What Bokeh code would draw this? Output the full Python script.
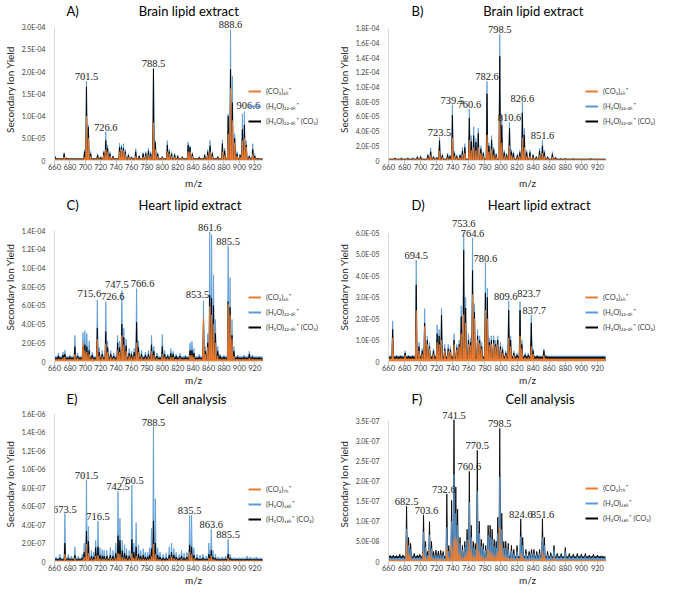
from bokeh.plotting import figure
from bokeh.layouts import gridplot
from bokeh.models import (Range1d, FixedTicker, CustomJSTickFormatter, Legend,
                          LegendItem, ColumnDataSource, LabelSet)
from bokeh.embed import file_html
from bokeh.resources import INLINE

X_MIN, X_MAX = 660, 930

# ---------------- Panel A: Brain lipid extract (units 1e-5) ----------------
A_unit = 1e-5
A_mz = [661, 672.5, 676, 684, 690, 695, 699, 701.5, 704, 707, 716, 720, 724, 726.6, 729, 732, 736,
        744.5, 747, 749.5, 752, 756, 760, 765.5, 770, 775, 778.5, 782, 785, 788.5, 791, 794, 800,
        806.5, 809, 812, 816, 820, 826, 833.5, 836, 839, 848, 855, 859, 862, 865, 872, 878, 881,
        885.5, 888.6, 891, 894, 897, 901, 904, 906.6, 909, 913, 917.5, 920, 925]
A_co2 = [0.4, 0.8, 0.3, 0.2, 0.2, 0.2, 0.8, 10.0, 5.0, 1.0, 0.6, 0.4, 1.2, 2.5, 2.0, 1.0, 0.6,
         2.0, 2.5, 2.2, 1.5, 0.8, 0.6, 1.0, 0.6, 0.8, 1.0, 1.2, 1.0, 8.5, 2.5, 1.0, 0.6,
         2.0, 1.5, 1.0, 0.8, 0.6, 0.6, 2.0, 2.0, 1.0, 0.4, 0.6, 1.2, 2.0, 1.0, 0.5, 2.0, 1.2,
         6.0, 16.2, 9.0, 4.0, 1.0, 0.8, 4.5, 5.0, 3.0, 0.6, 1.5, 0.6, 0.3]
A_h2o = [1.0, 1.8, 0.6, 0.4, 0.4, 0.4, 2.5, 17.9, 8.0, 2.0, 1.5, 0.9, 2.2, 6.5, 3.5, 2.0, 1.1,
         3.9, 3.5, 3.8, 2.5, 1.5, 1.0, 2.7, 1.2, 1.8, 2.0, 2.8, 2.0, 20.8, 4.5, 1.8, 1.0,
         4.5, 2.5, 2.0, 1.6, 1.2, 1.0, 4.2, 3.3, 1.8, 0.9, 1.5, 2.5, 4.5, 2.0, 1.0, 4.6, 2.8,
         10.5, 29.5, 19.0, 6.0, 2.0, 1.5, 10.5, 11.0, 4.5, 1.2, 3.8, 1.5, 0.5]
A_h2o_co2 = [0.8, 1.5, 0.5, 0.3, 0.3, 0.3, 2.0, 16.6, 7.5, 1.5, 1.2, 0.7, 1.8, 4.5, 2.8, 1.5, 0.9,
             3.0, 3.0, 2.8, 2.0, 1.2, 0.8, 2.0, 1.0, 1.5, 1.6, 2.2, 1.5, 20.6, 4.0, 1.5, 0.8,
             3.5, 2.0, 1.5, 1.3, 1.0, 0.8, 3.5, 3.0, 1.5, 0.7, 1.2, 2.0, 3.3, 1.6, 0.8, 3.8, 2.2,
             10.0, 20.5, 13.0, 5.0, 1.5, 1.2, 7.0, 8.0, 3.5, 1.0, 2.5, 1.0, 0.4]
A_base = [0.25, 0.45, 0.35]
A_labels = ["701.5", "726.6", "788.5", "888.6", "906.6"]

# ---------------- Panel B: Brain lipid extract (units 1e-5) ----------------
B_unit = 1e-5
B_mz = [668, 676, 684, 690, 696, 700, 709, 712.5, 716, 720, 723.5, 727, 733.5, 736.5, 739.5, 742,
        745, 749, 752, 755, 760.6, 763, 766, 768.8, 771.7, 775, 778, 782.6, 785, 788.3, 791, 794,
        798.5, 801, 804, 807, 810.6, 813, 815.5, 820.4, 823.5, 826.6, 829, 832, 836, 840, 844, 848,
        851.6, 854, 858, 864, 868, 874.5, 880, 890, 900, 912]
B_h2o = [0.4, 0.4, 0.4, 0.4, 0.6, 0.7, 0.9, 1.7, 0.6, 0.5, 3.2, 0.9, 1.0, 0.8, 7.6, 1.3,
         0.8, 0.9, 1.8, 2.3, 7.0, 3.4, 4.6, 3.0, 4.4, 2.0, 1.2, 10.8, 2.4, 3.4, 1.8, 1.0,
         17.2, 6.1, 1.4, 1.0, 5.2, 1.5, 1.2, 0.9, 1.4, 7.9, 4.4, 1.4, 1.4, 0.9, 0.6, 1.7,
         2.75, 1.4, 0.6, 1.2, 0.5, 0.3, 0.3, 0.3, 0.25, 0.3]
B_h2o_co2 = [0.3, 0.3, 0.3, 0.3, 0.5, 0.5, 0.7, 1.2, 0.5, 0.4, 2.7, 0.7, 0.8, 0.6, 6.2, 1.0,
             0.6, 0.7, 1.3, 1.8, 5.8, 2.6, 3.4, 2.5, 3.7, 1.6, 1.0, 9.1, 2.0, 2.8, 1.5, 0.8,
             14.2, 4.8, 1.1, 0.8, 4.4, 1.2, 1.0, 0.7, 1.1, 6.5, 3.5, 1.1, 1.1, 0.7, 0.5, 1.3,
             2.0, 1.1, 0.5, 0.9, 0.4, 0.25, 0.25, 0.25, 0.2, 0.25]
B_co2 = [0.2, 0.2, 0.2, 0.2, 0.3, 0.3, 0.4, 0.7, 0.3, 0.25, 1.3, 0.4, 0.4, 0.3, 3.1, 0.6,
         0.4, 0.4, 0.8, 1.0, 2.8, 1.4, 1.8, 1.4, 1.8, 1.0, 0.6, 3.5, 1.2, 1.5, 0.8, 0.5,
         6.1, 2.4, 0.6, 0.5, 2.0, 0.7, 0.5, 0.4, 0.6, 3.1, 1.8, 0.6, 0.6, 0.4, 0.3, 0.7,
         1.0, 0.6, 0.3, 0.5, 0.25, 0.15, 0.15, 0.15, 0.12, 0.15]
B_base = [0.1, 0.2, 0.17]
B_labels = ["723.5", "739.5", "760.6", "782.6", "798.5", "810.6", "826.6", "851.6"]

# ---------------- Panel C: Heart lipid extract (units 1e-5) ----------------
C_unit = 1e-5
C_mz = [665, 671, 673.5, 680, 686.5, 690, 697, 699.5, 702, 705, 709, 715.6, 718, 722, 726.6, 729,
        733, 737, 742, 744.5, 747.5, 750, 753, 757, 760, 763.5, 766.6, 769, 773, 778, 782, 786,
        789, 793, 800, 803, 807, 811, 814, 818, 823, 830, 836, 838.5, 841, 848, 853.5, 856, 859,
        861.6, 864, 866.5, 869, 872, 875, 880, 885.5, 888, 890.5, 893, 898, 906, 913, 917, 925]
C_h2o = [0.9, 1.0, 1.2, 0.7, 2.8, 0.9, 3.1, 3.3, 3.0, 2.2, 1.0, 6.6, 1.5, 1.2, 6.4, 2.2,
         1.2, 0.9, 2.8, 2.2, 7.6, 3.6, 2.4, 1.4, 1.1, 1.4, 7.8, 2.2, 1.2, 1.0, 1.2, 2.8,
         1.6, 0.9, 2.9, 1.2, 0.8, 1.4, 1.1, 0.8, 0.9, 0.7, 2.0, 2.2, 1.4, 0.8, 6.5, 1.6, 3.0,
         13.9, 13.6, 9.3, 4.5, 1.6, 0.8, 0.7, 12.4, 9.0, 4.5, 1.6, 0.7, 0.7, 1.1, 0.7, 0.5]
C_h2o_co2 = [0.6, 0.7, 0.8, 0.5, 1.6, 0.6, 1.6, 1.8, 1.6, 1.2, 0.7, 3.6, 1.0, 0.8, 3.2, 1.5,
             0.8, 0.6, 2.0, 1.5, 4.0, 2.6, 1.7, 0.9, 0.8, 1.0, 4.2, 1.5, 0.8, 0.7, 0.8, 1.8,
             1.1, 0.6, 1.6, 0.8, 0.6, 0.9, 0.8, 0.6, 0.6, 0.5, 1.2, 1.2, 0.9, 0.5, 4.4, 1.1, 2.0,
             7.1, 6.8, 6.0, 3.0, 1.1, 0.6, 0.5, 6.4, 5.8, 2.8, 1.1, 0.5, 0.5, 0.8, 0.5, 0.4]
C_co2 = [0.3, 0.4, 0.5, 0.3, 0.8, 0.4, 2.0, 1.2, 1.0, 0.8, 0.4, 2.4, 0.6, 0.5, 1.9, 1.0,
         0.5, 0.4, 1.2, 1.0, 2.8, 1.8, 1.1, 0.6, 0.5, 0.6, 2.0, 1.0, 0.5, 0.4, 0.5, 1.1,
         0.7, 0.4, 0.8, 0.5, 0.4, 0.5, 0.5, 0.3, 0.4, 0.3, 0.7, 0.7, 0.5, 0.3, 4.7, 0.8, 1.5,
         5.9, 5.0, 4.0, 2.0, 0.6, 0.3, 0.3, 6.2, 5.0, 2.4, 0.6, 0.3, 0.3, 0.4, 0.3, 0.2]
C_base = [0.2, 0.5, 0.35]
C_labels = ["715.6", "726.6", "747.5", "766.6", "853.5", "861.6", "885.5"]

# ---------------- Panel D: Heart lipid extract (units 1e-5) ----------------
D_unit = 1e-5
D_mz = [665.2, 670, 675, 680.7, 685, 690, 694.5, 698, 702, 705, 708.3, 711, 716, 720.5, 723, 726,
        730, 734.3, 737, 741.6, 745, 748, 750.5, 753.6, 756, 759.5, 762, 764.6, 767, 770.9, 773.5,
        776, 780.6, 783, 785.5, 788, 791, 793.5, 796, 799.3, 802, 806, 809.6, 812, 816, 820, 823.7,
        826, 830, 834, 837.7, 840, 845, 853.4, 856, 866, 872, 882.5, 890, 900, 912, 918]
D_h2o = [1.9, 0.3, 0.3, 0.5, 0.3, 0.3, 4.74, 0.9, 0.6, 2.47, 1.2, 0.9, 0.6, 1.72, 1.5, 2.5,
         0.8, 0.8, 0.7, 1.3, 0.8, 1.0, 2.6, 6.03, 3.0, 1.3, 1.1, 5.78, 2.7, 1.5, 1.2,
         0.9, 4.62, 3.43, 1.1, 1.2, 1.2, 1.0, 1.2, 0.9, 0.7, 0.5, 2.84, 1.2, 0.5, 0.4, 2.8,
         1.0, 0.4, 0.4, 2.17, 0.6, 0.3, 0.6, 0.3, 0.25, 0.2, 0.25, 0.2, 0.2, 0.2, 0.2]
D_h2o_co2 = [1.5, 0.25, 0.25, 0.4, 0.25, 0.25, 3.58, 0.7, 0.5, 1.8, 1.0, 0.7, 0.5, 1.3, 1.2, 2.17,
             0.6, 0.6, 0.55, 1.0, 0.65, 0.8, 2.1, 5.2, 2.5, 1.0, 0.9, 4.25, 2.3, 1.2, 1.0,
             0.7, 3.2, 3.0, 0.9, 1.0, 1.0, 0.8, 1.0, 0.7, 0.55, 0.4, 2.4, 1.0, 0.4, 0.3, 2.4,
             0.8, 0.3, 0.3, 1.8, 0.5, 0.25, 0.5, 0.25, 0.2, 0.15, 0.2, 0.15, 0.15, 0.15, 0.15]
D_co2 = [1.1, 0.15, 0.15, 0.3, 0.15, 0.15, 2.39, 0.5, 0.35, 1.65, 0.8, 0.6, 0.35, 0.9, 0.8, 1.0,
         0.5, 0.5, 0.45, 0.8, 0.55, 0.7, 1.3, 2.2, 1.8, 0.8, 0.75, 3.13, 2.0, 1.0, 0.85,
         0.6, 2.4, 2.0, 0.75, 0.8, 0.85, 0.7, 0.8, 0.55, 0.4, 0.3, 1.1, 0.7, 0.3, 0.2, 1.2,
         0.6, 0.2, 0.2, 0.7, 0.35, 0.15, 0.3, 0.15, 0.12, 0.1, 0.12, 0.1, 0.1, 0.1, 0.1]
D_base = [0.12, 0.25, 0.2]
D_labels = ["694.5", "753.6", "764.6", "780.6", "809.6", "823.7", "837.7"]

# ---------------- Panel E: Cell analysis (units 1e-7) ----------------
E_unit = 1e-7
E_mz = [662, 667, 673.5, 678, 682, 686.5, 691, 696, 698.5, 701.5, 704, 708, 711, 713.5, 716.5, 719,
        722, 724.5, 728, 732.5, 736, 739.5, 742.5, 745, 748, 751, 753.5, 757, 760.5, 763, 766,
        769.2, 772, 775.3, 778, 781, 783.5, 786, 788.5, 791, 794, 797, 801, 805, 809, 812, 815,
        818, 822, 825, 828.3, 832, 835.5, 838, 841, 845, 849, 852.7, 857, 860.5, 863.6, 866, 869,
        873, 878, 882, 885.5, 888, 893, 900, 906, 910, 914, 918, 922, 926]
E_h2o = [0.5, 0.8, 5.2, 0.8, 0.6, 1.6, 0.6, 0.8, 2.0, 8.8, 3.8, 1.2, 1.0, 2.3, 4.4, 1.5,
         1.3, 1.2, 1.2, 1.5, 1.2, 2.0, 7.6, 4.7, 2.3, 1.8, 1.4, 1.2, 8.3, 2.0, 4.2,
         1.8, 1.2, 1.4, 1.0, 1.0, 1.5, 3.6, 14.6, 6.8, 1.5, 1.0, 0.8, 0.9, 1.6, 2.0, 1.4,
         1.0, 0.8, 1.2, 0.9, 1.0, 5.0, 5.0, 1.5, 0.8, 0.7, 0.8, 0.6, 2.0, 3.5, 1.2, 0.8,
         0.5, 0.5, 0.6, 2.4, 0.8, 0.4, 0.4, 0.4, 0.6, 0.5, 0.4, 0.5, 0.3]
E_h2o_co2 = [0.3, 0.4, 2.0, 0.4, 0.3, 0.7, 0.3, 0.4, 1.0, 3.3, 2.2, 0.6, 0.5, 1.5, 1.6, 0.7,
             0.6, 0.6, 0.6, 0.7, 0.6, 0.9, 2.8, 2.3, 1.2, 0.9, 0.7, 0.6, 2.4, 1.0, 1.6,
             0.8, 0.6, 0.7, 0.5, 0.5, 0.7, 1.4, 4.4, 2.0, 0.7, 0.5, 0.4, 0.4, 0.7, 1.0, 0.7,
             0.5, 0.4, 0.6, 0.4, 0.5, 1.8, 1.6, 0.7, 0.4, 0.3, 0.4, 0.3, 0.8, 1.25, 0.5, 0.4,
             0.25, 0.25, 0.3, 0.8, 0.4, 0.2, 0.2, 0.2, 0.3, 0.25, 0.2, 0.25, 0.15]
E_co2 = [0.15, 0.2, 0.8, 0.2, 0.15, 0.4, 0.15, 0.2, 0.5, 1.9, 0.9, 0.3, 0.25, 0.6, 0.7, 0.3,
         0.3, 0.3, 0.3, 0.35, 0.3, 0.4, 0.9, 0.8, 0.5, 0.4, 0.3, 0.3, 0.9, 0.4, 0.6,
         0.35, 0.3, 0.3, 0.25, 0.25, 0.3, 0.6, 1.9, 0.8, 0.3, 0.25, 0.2, 0.2, 0.35, 0.5, 0.35,
         0.25, 0.2, 0.3, 0.2, 0.25, 1.0, 0.8, 0.35, 0.2, 0.15, 0.2, 0.15, 0.4, 0.6, 0.25, 0.2,
         0.12, 0.12, 0.15, 0.4, 0.2, 0.1, 0.1, 0.1, 0.15, 0.12, 0.1, 0.12, 0.08]
E_base = [0.08, 0.35, 0.2]
E_labels = ["673.5", "701.5", "716.5", "742.5", "760.5", "788.5", "835.5", "863.6", "885.5"]

# ---------------- Panel F: Cell analysis (units 1e-8) ----------------
F_unit = 1e-8
F_mz = [662, 666, 670, 674, 678, 682.5, 685, 687.5, 692, 696, 699, 703.6, 706, 708.5, 711, 713.5,
        716, 719, 722, 725, 728, 732.6, 735, 738.6, 741.5, 743.8, 746, 749, 752, 755, 757.8, 760.6,
        763, 765.5, 768, 770.5, 773, 775.5, 778, 781, 784, 786.5, 789, 791.5, 794, 796, 798.5, 801,
        803.5, 806, 809, 813, 816, 820, 824.6, 827, 831, 835, 838, 841, 844.5, 848, 851.6, 854,
        858, 862, 866, 870, 875, 880, 885, 890, 895, 900, 905, 910, 915, 920, 925]
F_h2o_co2 = [1.5, 1.6, 1.5, 1.8, 1.6, 13.7, 6.0, 4.5, 2.0, 1.6, 1.8, 11.6, 5.0, 2.5, 9.9, 5.0,
             2.5, 2.8, 2.6, 2.8, 2.5, 16.8, 4.0, 15.2, 35.2, 18.5, 13.0, 6.0, 4.0, 5.0, 8.0, 22.4,
             9.0, 5.0, 4.5, 27.6, 10.0, 5.5, 4.5, 4.0, 9.0, 9.0, 8.0, 5.5, 5.0, 11.0, 33.1, 12.0,
             5.0, 5.0, 4.5, 4.0, 3.0, 4.0, 10.6, 6.0, 3.0, 2.5, 3.0, 3.0, 2.5, 3.0, 10.6, 6.0,
             2.5, 2.2, 4.0, 2.0, 2.0, 3.5, 2.0, 1.8, 2.0, 1.8, 2.0, 1.6, 1.8, 1.6, 1.4]
F_h2o = [0.9, 1.0, 0.9, 1.0, 1.0, 8.1, 4.0, 3.0, 1.2, 1.0, 1.1, 7.3, 3.5, 1.6, 6.6, 3.2,
         1.5, 1.7, 1.6, 1.7, 1.6, 8.5, 2.6, 10.0, 21.6, 12.0, 9.0, 4.5, 2.8, 3.5, 5.5, 14.7,
         6.0, 3.4, 3.0, 17.4, 7.0, 3.8, 3.2, 2.8, 6.5, 6.0, 5.5, 3.8, 3.4, 7.0, 21.0, 8.0,
         3.4, 3.3, 3.0, 2.6, 2.0, 2.5, 6.2, 4.0, 2.0, 1.7, 2.0, 2.0, 1.7, 2.0, 6.0, 4.0,
         1.7, 1.5, 2.8, 1.3, 1.3, 2.5, 1.3, 1.2, 1.3, 1.2, 1.3, 1.1, 1.2, 1.1, 1.0]
F_co2 = [0.4, 0.4, 0.4, 0.4, 0.4, 5.0, 2.0, 1.2, 0.5, 0.4, 0.5, 2.5, 1.2, 0.7, 3.0, 1.2,
         0.6, 0.7, 0.6, 0.7, 0.6, 3.5, 1.0, 4.0, 5.4, 6.0, 5.0, 2.0, 1.2, 1.5, 2.5, 5.4,
         3.0, 1.5, 1.3, 4.5, 2.5, 1.5, 1.2, 1.0, 3.0, 2.5, 2.0, 1.5, 1.3, 2.5, 8.5, 4.0,
         1.3, 1.2, 1.0, 0.9, 0.7, 0.9, 2.0, 1.2, 0.6, 0.5, 0.6, 0.6, 0.5, 0.6, 2.5, 1.5,
         0.5, 0.5, 1.0, 0.4, 0.4, 0.7, 0.4, 0.35, 0.35, 0.35, 0.35, 0.3, 0.3, 0.3, 0.3]
F_base = [0.3, 0.8, 1.15]
F_labels = ["682.5", "703.6", "732.6", "741.5", "760.6", "770.5", "798.5", "824.6", "851.6"]

# ---------------- titles, legends, axes ----------------
letters = ["A)", "B)", "C)", "D)", "E)", "F)"]
titles = ["Brain lipid extract", "Brain lipid extract", "Heart lipid extract",
          "Heart lipid extract", "Cell analysis", "Cell analysis"]
legend_extract = ["(CO\u2082)\u2086\u2096\u207a", "(H\u2082O)\u2082\u2082.\u2085\u2096\u207a",
                  "(H\u2082O)\u2082\u2082.\u2085\u2096\u207a (CO\u2082)"]
legend_cell = ["(CO\u2082)\u2087\u2096\u207a", "(H\u2082O)\u2081\u2088\u2096\u207a",
               "(H\u2082O)\u2081\u2088\u2096\u207a (CO\u2082)"]
y_ticks_max = [3.0, 1.8, 1.4, 6.0, 1.6, 3.5]     # top tick, in tick units
y_tick_step = [0.5, 0.2, 0.2, 1.0, 0.2, 0.5]
y_tick_unit = [1e-4, 1e-4, 1e-4, 1e-5, 1e-6, 1e-7]

# ---------------- styling ----------------
ORANGE, BLUE, BLACK = "#ED7D31", "#5B9BD5", "#000000"
FONT = "Lato"
HW = 1.0                      # half width of a drawn peak (Da)
X_VIEW_END = [1021, 1006]     # per column: frame extends right of the m/z axis for the legend
LEFTS = [43, 49]
HEADROOM = [1.065, 1.075, 1.14, 1.16, 1.05, 1.10]
BOTTOMS = [34, 34, 26, 26, 22, 22]
HEIGHTS = [194, 194, 194, 194, 200, 200]
LEG_Y = [34, 34, 29, 29, 37, 38]
LEG_X = [194, 197]
TITLE_OFFSET = [12, 23]
GAP = ["\u00a0" * 18, "\u00a0" * 18, "\u00a0" * 18, "\u00a0" * 19, "\u00a0" * 24, "\u00a0" * 25]
# small screen-pixel nudges of peak labels (dx, dy)
NUDGE = {(0, "906.6"): (4, 2), (2, "715.6"): (-8, 2), (2, "726.6"): (7, 1),
         (2, "747.5"): (-5, 2), (2, "766.6"): (6, 1), (2, "853.5"): (-6, 2),
         (3, "753.6"): (0, 4), (3, "823.7"): (9, 4), (3, "809.6"): (-3, 0), (3, "837.7"): (3, 0),
         (5, "732.6"): (-3, 0), (5, "703.6"): (3, 0)}

FMT = CustomJSTickFormatter(code="""
if (Math.abs(tick) < 1e-30) { return "0"; }
let e = Math.floor(Math.log10(Math.abs(tick)));
let m = tick / Math.pow(10, e);
m = Math.round(m * 10) / 10;
if (m >= 10) { m = m / 10; e += 1; }
const s = e < 0 ? "-" : "+";
const a = Math.abs(e);
return m.toFixed(1) + "E" + s + (a < 10 ? "0" + a : "" + a);
""")


def spectrum(mz, h, base, unit):
    xs = [X_MIN]
    ys = [base * unit]
    for m, v in zip(mz, h):
        xs += [m - HW, m, m + HW]
        ys += [base * unit, max(v, base) * unit, base * unit]
    xs.append(X_MAX)
    ys.append(base * unit)
    return xs, ys


panels = [
    (A_mz, A_co2, A_h2o, A_h2o_co2, A_base, A_unit, A_labels),
    (B_mz, B_co2, B_h2o, B_h2o_co2, B_base, B_unit, B_labels),
    (C_mz, C_co2, C_h2o, C_h2o_co2, C_base, C_unit, C_labels),
    (D_mz, D_co2, D_h2o, D_h2o_co2, D_base, D_unit, D_labels),
    (E_mz, E_co2, E_h2o, E_h2o_co2, E_base, E_unit, E_labels),
    (F_mz, F_co2, F_h2o, F_h2o_co2, F_base, F_unit, F_labels),
]

W = 334
RIGHT, TOP = 2, 15
figs = []
for i, (mz, co2, h2o, h2oco2, base, unit, labels) in enumerate(panels):
    col_i = i % 2
    H = HEIGHTS[i]
    n_ticks = int(round(y_ticks_max[i] / y_tick_step[i]))
    ticks = [round(k * y_tick_step[i], 6) * y_tick_unit[i] for k in range(n_ticks + 1)]
    ymax = ticks[-1]
    p = figure(width=W, height=H, output_backend="svg", toolbar_location=None,
               x_range=Range1d(X_MIN, X_VIEW_END[col_i]), y_range=Range1d(0, ymax * HEADROOM[i]),
               min_border_left=LEFTS[col_i], min_border_right=RIGHT, min_border_top=TOP,
               min_border_bottom=BOTTOMS[i])
    p.outline_line_color = None
    p.xgrid.visible = False
    p.ygrid.visible = False
    p.background_fill_color = "white"

    series = {
        "co2": (co2, base[0], ORANGE),
        "h2o": (h2o, base[1], BLUE),
        "h2oco2": (h2oco2, base[2], BLACK),
    }
    order = ["h2oco2", "h2o", "co2"] if i == 5 else ["h2o", "h2oco2", "co2"]
    for key in order:
        vals, b, col = series[key]
        xs, ys = spectrum(mz, vals, b, unit)
        src = ColumnDataSource(dict(x=xs, y=ys))
        alpha = 0.75 if (key == "h2o" and i == 4) else 1.0
        p.varea(x="x", y1=0, y2="y", source=src, fill_color=col, fill_alpha=alpha)
        p.line(x="x", y="y", source=src, line_color=col, line_width=0.8)

    # legend (line swatches), placed just right of the m/z axis end
    items = []
    names = legend_cell if i >= 4 else legend_extract
    for key, name in zip(["co2", "h2o", "h2oco2"], names):
        b = series[key][1]
        r = p.line(x=[X_MIN], y=[b * unit], line_color=series[key][2], line_width=2)
        items.append(LegendItem(label=name, renderers=[r]))
    leg = Legend(items=items, location=(LEG_X[col_i], LEG_Y[i]),
                 background_fill_alpha=0, border_line_color=None,
                 label_text_font=FONT, label_text_font_size="7.5px", label_text_color="#404040",
                 glyph_width=13, glyph_height=8, label_standoff=5, spacing=5,
                 padding=0, margin=0, label_height=8, label_width=10)
    p.add_layout(leg, "center")

    # peak labels: placed above the tallest trace at that m/z
    lx, ly, dx, dy = [], [], [], []
    for t in labels:
        m = float(t)
        k = mz.index(m)
        lx.append(m)
        ly.append(max(co2[k], h2o[k], h2oco2[k]) * unit)
        nx, ny = NUDGE.get((i, t), (0, 0))
        dx.append(nx)
        dy.append(1 + ny)
    lsrc = ColumnDataSource(dict(x=lx, y=ly, t=labels, dx=dx, dy=dy))
    p.add_layout(LabelSet(x="x", y="y", text="t", source=lsrc, text_align="center",
                          text_baseline="bottom", x_offset="dx", y_offset="dy", text_font=FONT,
                          text_font_size="10.5px", text_color="#1a1a1a"))

    # title with panel letter
    p.title.text = letters[i] + GAP[i] + titles[i]
    p.title.align = "left"
    p.title.offset = TITLE_OFFSET[col_i]
    p.title.standoff = 0
    p.title.text_font = FONT
    p.title.text_font_size = "13px"
    p.title.text_font_style = "normal"
    p.title.text_color = "#000000"

    # axes
    p.xaxis.ticker = FixedTicker(ticks=list(range(660, 921, 20)))
    p.xaxis.bounds = (X_MIN, X_MAX)
    p.yaxis.ticker = FixedTicker(ticks=ticks)
    p.yaxis.bounds = (0, ymax)
    p.yaxis.formatter = FMT
    p.xaxis.axis_label = "m/z"
    p.yaxis.axis_label = "Secondary Ion Yield"
    for ax in (p.xaxis, p.yaxis):
        ax.axis_label_text_font = FONT
        ax.axis_label_text_font_size = "10px"
        ax.axis_label_text_font_style = "normal"
        ax.axis_label_text_color = "#262626"
        ax.major_label_text_font = FONT
        ax.major_label_text_color = "#404040"
        ax.axis_line_color = "#D9D9D9"
        ax.minor_tick_line_color = None
    p.xaxis.major_label_text_font_size = "7.5px"
    p.yaxis.major_label_text_font_size = "6.8px"
    p.xaxis.major_tick_line_color = "#BFBFBF"
    p.xaxis.major_tick_in = 0
    p.xaxis.major_tick_out = 3
    p.yaxis.major_tick_line_color = None
    p.xaxis.axis_label_standoff = 0 if i >= 2 else 4
    p.yaxis.axis_label_standoff = 3
    p.xaxis.major_label_standoff = 0
    p.yaxis.major_label_standoff = 3
    figs.append(p)

grid = gridplot([[figs[0], figs[1]], [figs[2], figs[3]], [figs[4], figs[5]]],
                toolbar_location=None)
open("out.html", "w").write(file_html(grid, INLINE))
